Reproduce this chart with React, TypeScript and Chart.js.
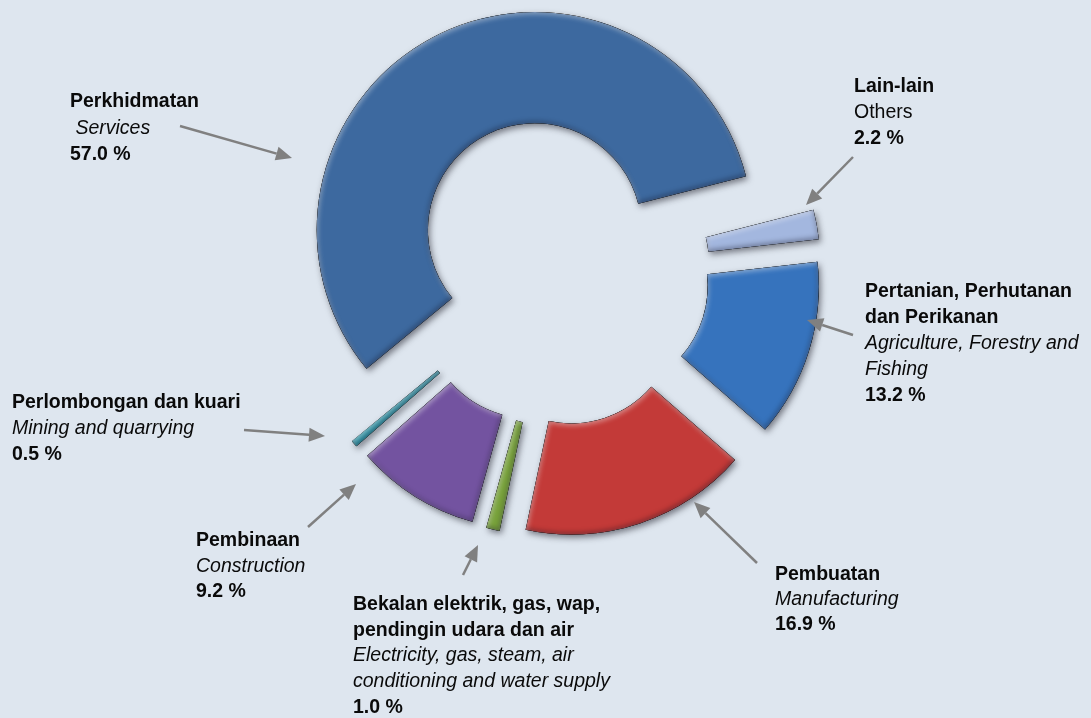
import React, { useEffect, useRef } from 'react';
import { Chart, registerables } from 'chart.js';

Chart.register(...registerables);

// ---- data ----
const categoriesMs = [
  'Perkhidmatan',
  'Lain-lain',
  'Pertanian, Perhutanan\ndan Perikanan',
  'Pembuatan',
  'Bekalan elektrik, gas, wap,\npendingin udara dan air',
  'Pembinaan',
  'Perlombongan dan kuari',
];
const categoriesEn = [
  ' Services',
  'Others',
  'Agriculture, Forestry and\nFishing',
  'Manufacturing',
  'Electricity, gas, steam, air\nconditioning and water supply',
  'Construction',
  'Mining and quarrying',
];
const shares = [57.0, 2.2, 13.2, 16.9, 1.0, 9.2, 0.5];

// ---- styles / layout ----
const segmentColors = ['#3d699f', '#a3b7df', '#3673bd', '#c33a38', '#78a23b', '#7353a0', '#2a95a8'];
const BG = '#dee6ef';
const EXPLODE = 47;
const FONT = '"Liberation Sans", Arial, sans-serif';
const FONT_SIZE = 19.5;

type LabelBox = { x: number; y: number; lh: number; from: [number, number]; to: [number, number] };
const labelLayout: LabelBox[] = [
  { x: 70, y: 107, lh: 26.5, from: [180, 126], to: [292, 158] },
  { x: 854, y: 92, lh: 26, from: [853, 157], to: [806, 205] },
  { x: 865, y: 297, lh: 26, from: [853, 335], to: [807, 320] },
  { x: 775, y: 580, lh: 25, from: [757, 563], to: [694, 502] },
  { x: 353, y: 610, lh: 25.7, from: [463, 575], to: [478, 545] },
  { x: 196, y: 546, lh: 25.5, from: [308, 527], to: [356, 484] },
  { x: 12, y: 408, lh: 26, from: [244, 430], to: [325, 436] },
];

function arcPath(ctx: CanvasRenderingContext2D, p: any) {
  ctx.moveTo(p.x + Math.cos(p.startAngle) * p.outerRadius, p.y + Math.sin(p.startAngle) * p.outerRadius);
  ctx.arc(p.x, p.y, p.outerRadius, p.startAngle, p.endAngle);
  ctx.arc(p.x, p.y, p.innerRadius, p.endAngle, p.startAngle, true);
  ctx.closePath();
}

const explodePlugin = {
  id: 'explode3d',
  beforeDatasetDraw(chart: any, args: any) {
    const ctx: CanvasRenderingContext2D = chart.ctx;
    const arcs = args.meta.data;
    arcs.forEach((arc: any) => {
      const p = arc.getProps(['x', 'y', 'startAngle', 'endAngle', 'innerRadius', 'outerRadius']);
      const mid = (p.startAngle + p.endAngle) / 2;
      const dx = Math.cos(mid) * EXPLODE;
      const dy = Math.sin(mid) * EXPLODE;
      // base fill with drop shadow
      ctx.save();
      ctx.translate(dx, dy);
      ctx.shadowColor = 'rgba(30,30,40,0.55)';
      ctx.shadowBlur = 6;
      ctx.shadowOffsetX = 2;
      ctx.shadowOffsetY = 3;
      arc.draw(ctx);
      ctx.restore();
      // inner bevel: light on top edges, dark on bottom edges
      const bevel = (color: string, ox: number, oy: number, blur: number) => {
        ctx.save();
        ctx.translate(dx, dy);
        ctx.beginPath();
        arcPath(ctx, p);
        ctx.clip();
        ctx.beginPath();
        ctx.rect(-5000, -5000, 10000, 10000);
        arcPath(ctx, p);
        ctx.shadowColor = color;
        ctx.shadowBlur = blur;
        ctx.shadowOffsetX = ox;
        ctx.shadowOffsetY = oy;
        ctx.fillStyle = '#000';
        ctx.fill('evenodd');
        ctx.restore();
      };
      bevel('rgba(255,255,255,0.45)', 1, 2, 5);
      bevel('rgba(0,0,20,0.35)', -1, -2, 5);
    });
    return false;
  },
};

function drawArrow(ctx: CanvasRenderingContext2D, from: [number, number], to: [number, number]) {
  const [x1, y1] = from;
  const [x2, y2] = to;
  const ang = Math.atan2(y2 - y1, x2 - x1);
  const head = 16;
  const half = 7;
  const bx = x2 - Math.cos(ang) * head;
  const by = y2 - Math.sin(ang) * head;
  ctx.save();
  ctx.strokeStyle = '#808080';
  ctx.fillStyle = '#808080';
  ctx.lineWidth = 2.5;
  ctx.beginPath();
  ctx.moveTo(x1, y1);
  ctx.lineTo(bx, by);
  ctx.stroke();
  ctx.beginPath();
  ctx.moveTo(x2, y2);
  ctx.lineTo(bx + Math.sin(ang) * half, by - Math.cos(ang) * half);
  ctx.lineTo(bx - Math.sin(ang) * half, by + Math.cos(ang) * half);
  ctx.closePath();
  ctx.fill();
  ctx.restore();
}

const labelPlugin = {
  id: 'calloutLabels',
  afterDraw(chart: any) {
    const ctx: CanvasRenderingContext2D = chart.ctx;
    const labels: string[] = chart.data.labels;
    const values: number[] = chart.data.datasets[0].data;
    labels.forEach((ms, i) => {
      const box = labelLayout[i];
      drawArrow(ctx, box.from, box.to);
      const lines: { t: string; f: string }[] = [];
      ms.split('\n').forEach((t) => lines.push({ t, f: `bold ${FONT_SIZE}px ${FONT}` }));
      categoriesEn[i].split('\n').forEach((t) =>
        lines.push({ t, f: `${i === 1 ? '' : 'italic '}${FONT_SIZE}px ${FONT}` })
      );
      lines.push({ t: `${values[i].toFixed(1)} %`, f: `bold ${FONT_SIZE}px ${FONT}` });
      ctx.save();
      ctx.fillStyle = '#0a0a0a';
      ctx.textBaseline = 'alphabetic';
      ctx.textAlign = 'left';
      lines.forEach((ln, k) => {
        ctx.font = ln.f;
        ctx.fillText(ln.t, box.x, box.y + k * box.lh);
      });
      ctx.restore();
    });
  },
};

export default function App() {
  const ref = useRef<HTMLCanvasElement | null>(null);
  useEffect(() => {
    if (!ref.current) return;
    const chart = new Chart(ref.current, {
      type: 'doughnut',
      data: {
        labels: categoriesMs,
        datasets: [
          {
            data: shares,
            backgroundColor: segmentColors,
            borderWidth: 0,
            hoverOffset: 0,
          },
        ],
      },
      options: {
        responsive: false,
        animation: false,
        events: [],
        rotation: -129.5,
        radius: 218,
        cutout: '49%',
        layout: { padding: { left: 21, right: 0, top: 0, bottom: 174 } },
        plugins: {
          legend: { display: false },
          tooltip: { enabled: false },
          title: { display: false },
        },
      },
      plugins: [explodePlugin, labelPlugin],
    } as any);
    return () => chart.destroy();
  }, []);
  return (
    <div style={{ position: 'absolute', left: 0, top: 0, width: 1091, height: 718, background: BG, overflow: 'hidden' }}>
      <canvas ref={ref} width={1091} height={718} style={{ display: 'block' }} />
    </div>
  );
}
